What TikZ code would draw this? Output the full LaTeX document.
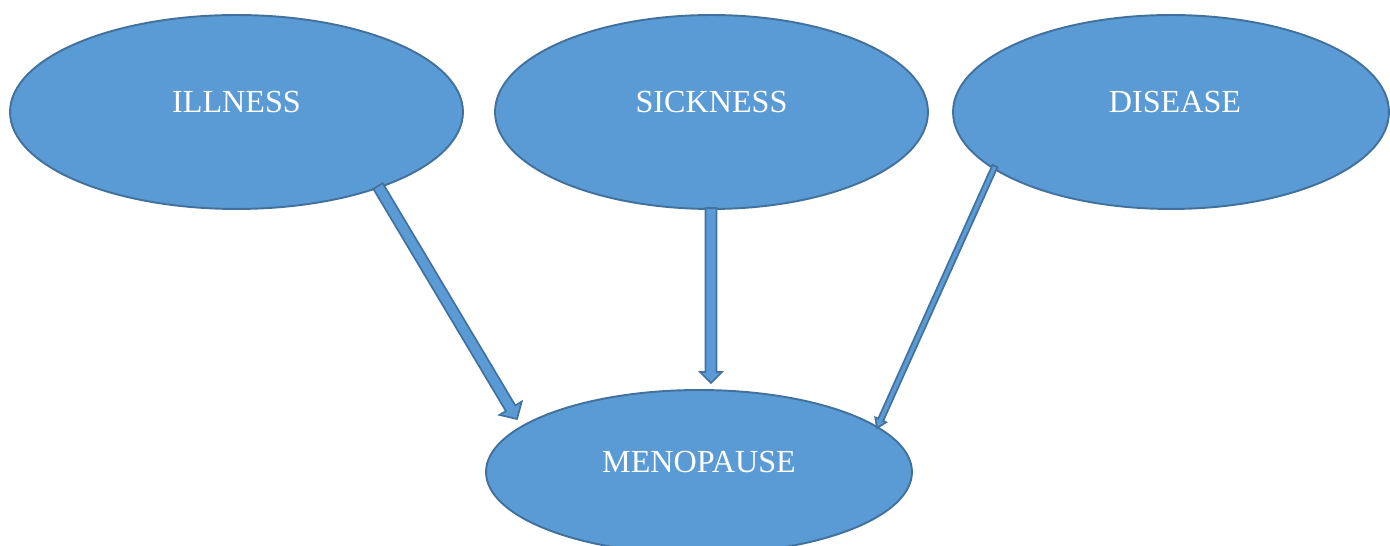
\documentclass[tikz,border=0pt]{standalone}
\usepackage{fontspec}
\setmainfont{Liberation Serif}
\usetikzlibrary{shapes.geometric,calc}
\definecolor{bfill}{HTML}{5B9BD5}
\definecolor{bline}{HTML}{41719C}
\tikzset{
  oval/.style={ellipse, draw=bline, fill=bfill, line width=1.1pt, inner sep=0pt},
  txt/.style={text=white, font=\fontsize{18.3}{20}\selectfont, inner sep=0pt},
  arrowbox/.style={draw=bline, fill=bfill, line width=0.95pt, line join=miter}
}
% start, end, half shaft width, half head width, head length
\newcommand\blockarrow[5]{%
  \coordinate (ba-c) at ($(#2)!#5!(#1)$);
  \draw[arrowbox] ($(#1)!#3!90:(#2)$) -- ($(ba-c)!#3!-90:(#1)$) -- ($(ba-c)!#4!-90:(#1)$) -- (#2)
    -- ($(ba-c)!#4!90:(#1)$) -- ($(ba-c)!#3!90:(#1)$) -- ($(#1)!#3!-90:(#2)$) -- cycle;
}
\begin{document}
\begin{tikzpicture}[x=0.02cm, y=-0.02cm]
\useasboundingbox (0,0) rectangle (1390,546);
\clip (0,0) rectangle (1390,546);
\node[oval, minimum width=9.06cm, minimum height=3.88cm,
  label={[txt, yshift=0.2cm]center:ILLNESS}] (ill) at (236.5,112) {};
\node[oval, minimum width=8.66cm, minimum height=3.88cm,
  label={[txt, yshift=0.2cm]center:SICKNESS}] (sick) at (711.5,112) {};
\node[oval, minimum width=8.72cm, minimum height=3.88cm,
  label={[txt, yshift=0.2cm, xshift=0.08cm]center:DISEASE}] (dis) at (1171,112) {};
\node[oval, minimum width=8.52cm, minimum height=3.28cm,
  label={[txt, yshift=0.2cm]center:MENOPAUSE}] (meno) at (699,472) {};
\coordinate (a1s) at (378,186);
\coordinate (a1e) at (517,419);
\coordinate (a2s) at (711,208);
\coordinate (a2e) at (711,383);
\coordinate (a3s) at (995,166);
\coordinate (a3e) at (877,428);
\blockarrow{a1s}{a1e}{0.11cm}{0.26cm}{0.25cm}
\blockarrow{a2s}{a2e}{0.11cm}{0.22cm}{0.22cm}
\blockarrow{a3s}{a3e}{0.055cm}{0.12cm}{0.18cm}
\end{tikzpicture}
\end{document}
